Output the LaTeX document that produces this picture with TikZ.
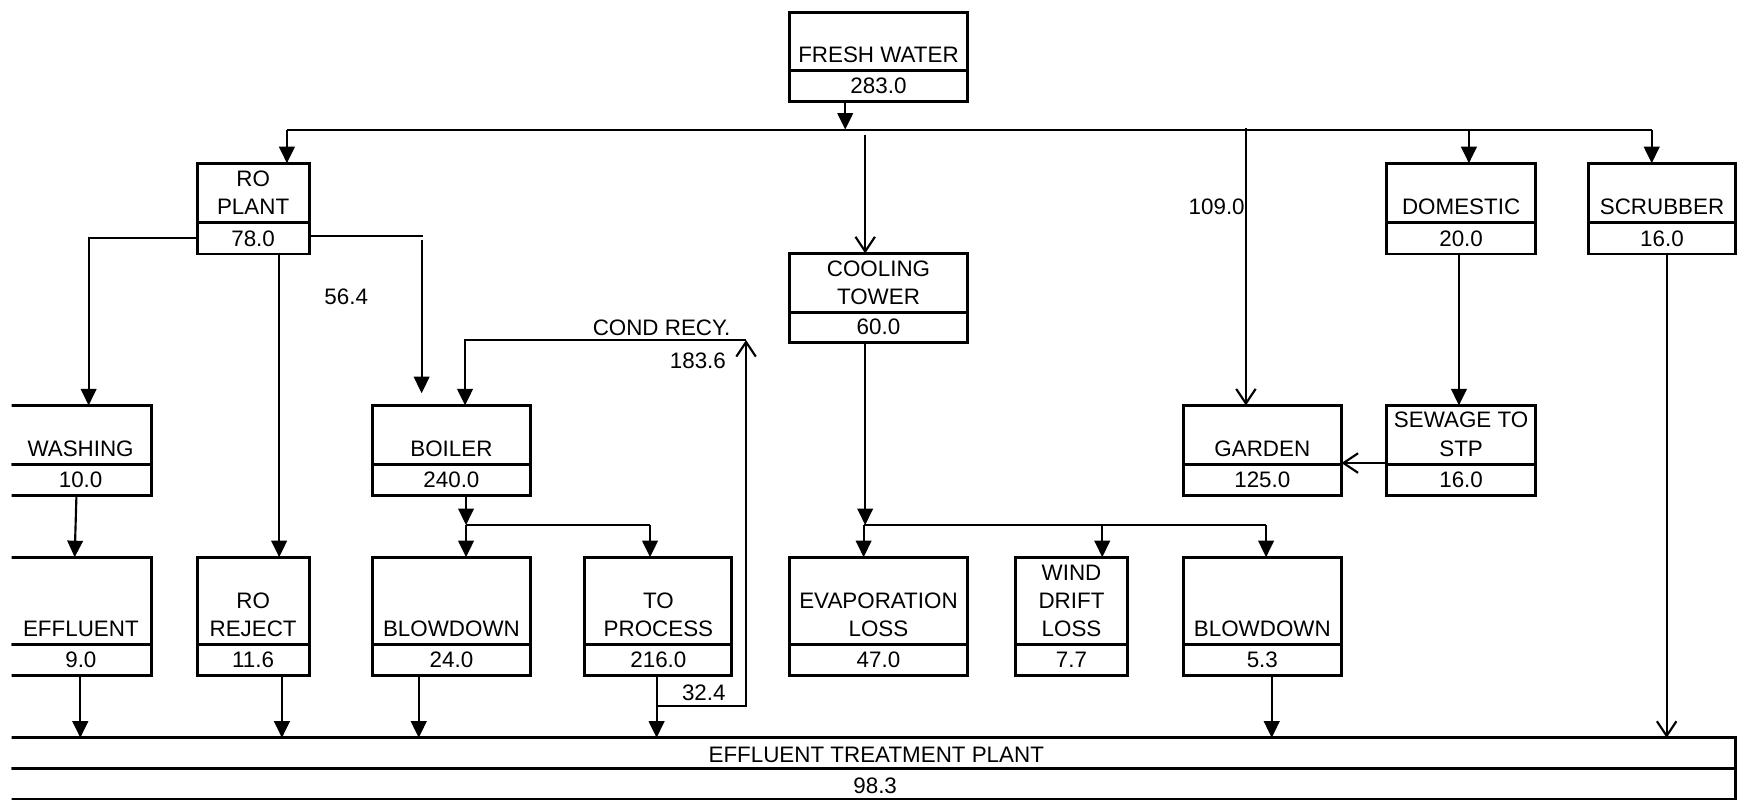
\documentclass[tikz,border=0pt]{standalone}
\usepackage{fontspec}
\setmainfont{Liberation Sans}
\usetikzlibrary{arrows.meta,calc}
\tikzset{
  boxpart/.style={draw, line width=1.5pt, inner sep=0pt, outer sep=0pt, rectangle},
  txt/.style={font=\fontsize{11.5}{14.5}\selectfont, inner sep=0pt, outer sep=0pt, align=center},
  conn/.style={line width=1.1pt},
  arr/.style={conn, -{Triangle[width=8pt,length=8.5pt]}},
  oarr/.style={conn, -{Straight Barb[width=10pt,length=7.5pt]}},
}
% name, x1, y1, x2, ydiv, y2, label, value
\newcommand\flowbox[8]{%
  \node[boxpart, minimum width={(#4-#2)*0.02cm}, minimum height={(#5-#3)*0.02cm}] (#1) at ({(#2+#4)/2},{(#3+#5)/2}) {};
  \node[boxpart, minimum width={(#4-#2)*0.02cm}, minimum height={(#6-#5)*0.02cm}] (#1v) at ({(#2+#4)/2},{(#5+#6)/2}) {};
  \node[txt, anchor=south] (#1t) at ([yshift=0.14cm]#1.south) {#7};
  \node[txt, anchor=south] (#1n) at ([yshift=0.14cm]#1v.south) {#8};
}
\begin{document}
\begin{tikzpicture}[x=0.02cm, y=-0.02cm]
\useasboundingbox (0,0) rectangle (1568,722);
\begin{scope}
\clip (10.6,0) rectangle (1568,722);
% boxes
\flowbox{fw}{712.5}{11}{873.5}{64}{92}{FRESH WATER}{283.0}
\flowbox{ro}{178}{147.4}{279}{201}{229.3}{RO\\PLANT}{78.0}
\flowbox{dom}{1251.7}{147.4}{1386.2}{201}{229.3}{DOMESTIC}{20.0}
\flowbox{scr}{1433.6}{147.4}{1567}{201}{229.3}{SCRUBBER}{16.0}
\flowbox{ct}{712.5}{228.7}{873.5}{282.2}{309.3}{COOLING\\TOWER}{60.0}
\flowbox{wash}{9}{366}{136.5}{419}{447.5}{WASHING}{10.0}
\flowbox{boil}{336}{366}{479}{419}{447.5}{BOILER}{240.0}
\flowbox{gar}{1068}{366}{1211}{419}{447.5}{GARDEN}{125.0}
\flowbox{sew}{1251.7}{366}{1386.2}{419}{447.5}{SEWAGE TO\\STP}{16.0}
\flowbox{eff}{9}{503}{137}{582}{610}{EFFLUENT}{9.0}
\flowbox{rej}{178}{503}{279}{582}{610}{RO\\REJECT}{11.6}
\flowbox{bbd}{336}{503}{479}{582}{610}{BLOWDOWN}{24.0}
\flowbox{tp}{528}{503}{660.7}{582}{610}{TO\\PROCESS}{216.0}
\flowbox{ev}{712.5}{503}{873.5}{582}{610}{EVAPORATION\\LOSS}{47.0}
\flowbox{wd}{917}{503}{1017.5}{582}{610}{WIND\\DRIFT\\LOSS}{7.7}
\flowbox{cbd}{1068}{503}{1211}{582}{610}{BLOWDOWN}{5.3}
% effluent treatment plant
\node[boxpart, minimum width={1558*0.02cm}, minimum height={28*0.02cm}] (etp) at (788,680) {};
\node[boxpart, minimum width={1558*0.02cm}, minimum height={28*0.02cm}] (etpv) at (788,708) {};
\node[txt, anchor=base] (etpt) at (791,688.5) {EFFLUENT TREATMENT PLANT};
\node[txt, anchor=base] (etpn) at (790,716.5) {98.3};

% coordinates
\coordinate (busL) at (259,117);
\coordinate (busM) at (763,117);
\coordinate (busR) at (1491,117);
\coordinate (dmx) at (1326,117);
\coordinate (ctin) at (781,122);
\coordinate (gin) at (1124.7,115.5);
\coordinate (rol) at (80,214.5);
\coordinate (ror) at (381.7,212.7);
\coordinate (rord) at (380.6,216.7);
\coordinate (boilin) at (380.6,355);
\coordinate (rjx) at (252,0);
\coordinate (we1) at (69,0);
\coordinate (we2) at (67.4,0);
\coordinate (ex) at (72.5,0);
\coordinate (rx) at (254.5,0);
\coordinate (bx) at (378,0);
\coordinate (tpx) at (592.7,0);
\coordinate (cbx) at (1148,0);
\coordinate (sx) at (1504.5,0);
\coordinate (dx) at (1317,0);
\coordinate (br1) at (592.7,637.3);
\coordinate (br2) at (673.5,637.3);
\coordinate (crtop) at (673.5,307);
\coordinate (crl) at (419.8,307);
\coordinate (bj) at (420.7,474);
\coordinate (bj2) at (586.8,474);
\coordinate (cj) at (781,474);
\coordinate (cj1) at (779.6,474);
\coordinate (cj2) at (995,474);
\coordinate (cj3) at (1142.9,474);
\coordinate (sy) at (0,418);

% connectors
\draw[arr] (fwv.south -| busM) -- (busM);
\draw[conn] (busL) -- (busR);
\draw[arr] (busL) -- (busL |- ro.north);
\draw[arr] (busR) -- (busR |- scr.north);
\draw[arr] (dmx) -- (dmx |- dom.north);
\draw[oarr] (ctin) -- (ctin |- ct.north);
\draw[oarr] (gin) -- (gin |- gar.north);
\draw[arr] (rov.west |- rol) -- (rol) -- (rol |- wash.north);
\draw[conn] (rov.east |- ror) -- (ror);
\draw[arr] (rord) -- (boilin);
\draw[arr] (rov.south -| rjx) -- (rjx |- rej.north);
\draw[arr] (washv.south -| we1) -- (eff.north -| we2);
\draw[arr] (effv.south -| ex) -- (etp.north -| ex);
\draw[arr] (rejv.south -| rx) -- (etp.north -| rx);
\draw[arr] (bbdv.south -| bx) -- (etp.north -| bx);
\draw[arr] (tpv.south -| tpx) -- (etp.north -| tpx);
\draw[arr] (cbdv.south -| cbx) -- (etp.north -| cbx);
\draw[oarr] (scrv.south -| sx) -- (etp.north -| sx);
\draw[arr] (domv.south -| dx) -- (dx |- sew.north);
\draw[oarr] (sew.west |- sy) -- (gar.east |- sy);
\draw[oarr] (br1) -- (br2) -- (crtop);
\draw[arr] (crtop) -- (crl) -- (crl |- boil.north);
\draw[arr] (boilv.south -| bj) -- (bj);
\draw[conn] (bj) -- (bj2);
\draw[arr] (bj) -- (bj |- bbd.north);
\draw[arr] (bj2) -- (bj2 |- tp.north);
\draw[arr] (ctv.south -| cj) -- (cj);
\draw[conn] (cj1) -- (cj3);
\draw[arr] (cj1) -- (cj1 |- ev.north);
\draw[arr] (cj2) -- (cj2 |- wd.north);
\draw[arr] (cj3) -- (cj3 |- cbd.north);

% free labels
\node[txt, anchor=base] (l564) at (312.5,274.5) {56.4};
\node[txt, anchor=base] (lcr) at (597.2,303.3) {COND RECY.};
\node[txt, anchor=base] (l1836) at (630,332.5) {183.6};
\node[txt, anchor=base] (l324) at (635.3,632.5) {32.4};
\node[txt, anchor=base] (l109) at (1098.3,194) {109.0};
\end{scope}
\end{tikzpicture}
\end{document}
